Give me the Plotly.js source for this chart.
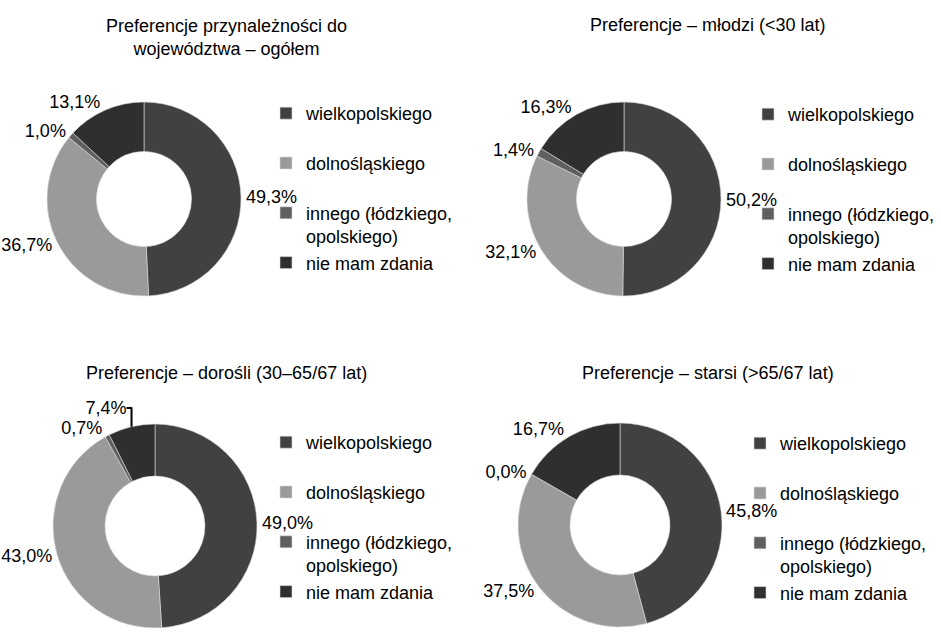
<!DOCTYPE html>
<html>
<head>
<meta charset="utf-8">
<script src="https://cdn.plot.ly/plotly-3.0.1.min.js"></script>
<style>html,body{margin:0;padding:0;background:#fff;}#chart{width:941px;height:640px;}</style>
</head>
<body>
<div id="chart"></div>
<script>
// ---- data ----
var categories = ['wielkopolskiego', 'dolnośląskiego', 'innego (łódzkiego,<br>opolskiego)', 'nie mam zdania'];
var titles = [
  'Preferencje przynależności do<br>województwa – ogółem',
  'Preferencje – młodzi (&lt;30 lat)',
  'Preferencje – dorośli (30–65/67 lat)',
  'Preferencje – starsi (&gt;65/67 lat)'
];
var ogolem  = [49.3, 36.7, 1.0, 13.1];
var mlodzi  = [50.2, 32.1, 1.4, 16.3];
var dorosli = [49.0, 43.0, 0.7, 7.4];
var starsi  = [45.8, 37.5, 0.0, 16.7];

// ---- styling ----
var colors = ['#414141', '#9a9a9a', '#5f5f5f', '#2f2f2f'];
var FONT = 'Liberation Sans, Arial, sans-serif';
// legend labels: extra blank line on the first two entries to widen spacing
var legendLabels = categories.map(function (c, i) { return i < 2 ? c + '<br> ' : c; });

var W = 941, H = 640;
function px2x(p) { return p / W; }
function px2y(p) { return 1 - p / H; }

var panels = [
  {vals: ogolem,  cx: 144, cy: 199, r: 97,  legend: 'legend',  lx: 266, ly: 95,  tx: 226, ty: 38},
  {vals: mlodzi,  cx: 624, cy: 199, r: 97,  legend: 'legend2', lx: 748, ly: 96,  tx: 708, ty: 25},
  {vals: dorosli, cx: 155, cy: 526, r: 102, legend: 'legend3', lx: 266, ly: 424, tx: 226, ty: 373},
  {vals: starsi,  cx: 620, cy: 525, r: 102, legend: 'legend4', lx: 740, ly: 425, tx: 708, ty: 373}
];

var data = panels.map(function (p, i) {
  return {
    type: 'pie',
    labels: legendLabels,
    values: p.vals,
    hole: 0.49,
    sort: false,
    direction: 'clockwise',
    rotation: 0,
    marker: {colors: colors, line: {color: '#d8d8d8', width: 0.6}},
    textposition: 'outside',
    texttemplate: '%{value:.1f}%',
    outsidetextfont: {family: FONT, size: 18, color: '#000'},
    hoverinfo: 'label+value',
    legend: p.legend,
    legendgroup: 'g' + (i + 1),
    domain: {
      x: [px2x(p.cx - p.r), px2x(p.cx + p.r)],
      y: [px2y(p.cy + p.r), px2y(p.cy - p.r)]
    }
  };
});

var layout = {
  width: W, height: H,
  margin: {l: 0, r: 0, t: 0, b: 0, autoexpand: false},
  paper_bgcolor: '#fff',
  separators: ',.',
  showlegend: true,
  font: {family: FONT, size: 18, color: '#000'},
  annotations: panels.map(function (p, i) {
    return {
      text: titles[i], xref: 'paper', yref: 'paper',
      x: px2x(p.tx), y: px2y(p.ty), xanchor: 'center', yanchor: 'middle',
      showarrow: false, font: {family: FONT, size: 18, color: '#000'}
    };
  })
};
panels.forEach(function (p) {
  layout[p.legend] = {
    x: px2x(p.lx), y: px2y(p.ly), xanchor: 'left', yanchor: 'top',
    font: {family: FONT, size: 18, color: '#000'},
    bgcolor: 'rgba(0,0,0,0)', valign: 'top', traceorder: 'normal'
  };
});

Plotly.newPlot('chart', data, layout, {staticPlot: true});
</script>
</body>
</html>
